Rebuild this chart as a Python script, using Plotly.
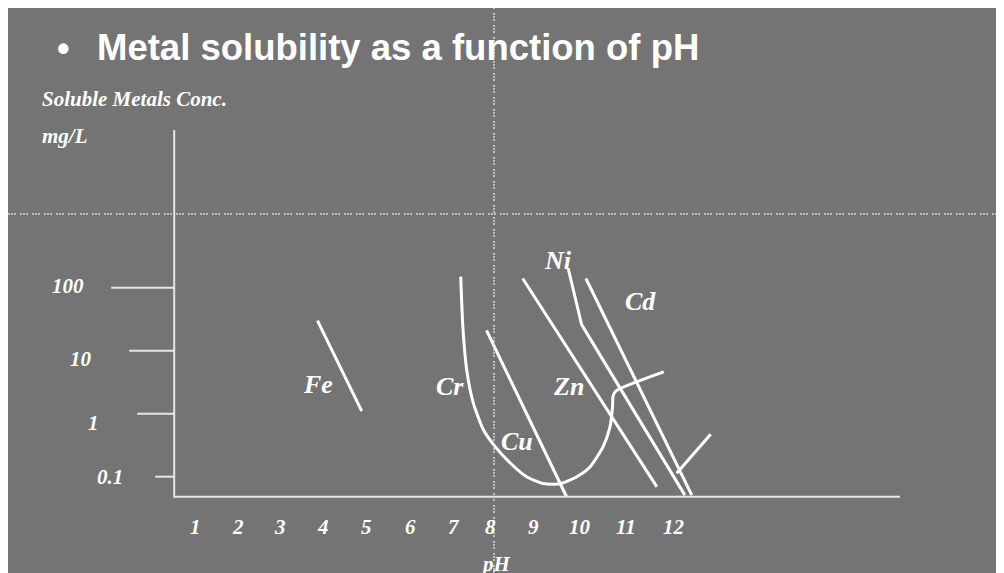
import math
import plotly.graph_objects as go

# pH axis labels and concentration axis labels (mg/L)
ph_ticks = [1, 2, 3, 4, 5, 6, 7, 8, 9, 10, 11, 12]
conc_ticks = [100, 10, 1, 0.1]
conc_tick_labels = ["100", "10", "1", "0.1"]

# solubility curves
fe_ph = [3.86, 4.89]
fe_conc = [30, 1.1]

cr_ph = [7.19, 7.24, 7.33, 7.48, 7.72, 7.99, 8.34, 8.72, 9.11, 9.50, 9.89, 10.20, 10.50, 10.66, 10.72, 10.73, 10.80, 11.91]
cr_conc = [150, 24, 4.9, 1.5, 0.55, 0.30, 0.165, 0.10, 0.078, 0.077, 0.10, 0.144, 0.30, 0.62, 1.32, 1.9, 2.3, 4.6]

cu_ph = [7.79, 9.65]
cu_conc = [21, 0.048]

zn_ph = [8.63, 11.75]
zn_conc = [140, 0.069]

ni_ph = [9.69, 9.85, 10.00, 10.12, 12.40]
ni_conc = [200, 72, 26, 19, 0.051]

cd_ph = [10.10, 12.56]
cd_conc = [140, 0.051]

rise_ph = [12.21, 13.00]
rise_conc = [0.113, 0.47]

metal_names = ["Fe", "Cr", "Cu", "Zn", "Ni", "Cd"]
label_ph = [3.88, 6.94, 8.49, 9.69, 9.46, 11.36]
label_conc = [2.86, 2.68, 0.36, 2.68, 275, 60]

# drawn axes of the slide
axis_ph = [0.53, 0.53, 17.4]
axis_conc = [31800, 0.048, 0.048]

# the page body adds an 8px white margin on the left and top
W, H = 996, 565
OFF = 8
BG = "#747474"
x_range = [-3.333, 19.818]
y_range = [-2.529, 6.440]
px_per_ph = W / (x_range[1] - x_range[0])


def px(x):
    return (x - OFF) / W


def py(y):
    return 1 - (y - OFF) / H


tick_len_px = [63, 45, 37, 19]
ylab_xshift = [-106, -93, -81, -64]
ylab_yshift = [2, -8, -9, 0]
# hand placed pH labels on the slide are not evenly spaced
xlab_xshift = [1, 1, 0, 0, 0, 1, 1, -5, -5, -2, 1, 6]

serif = dict(family="Liberation Serif", color="white", size=21, style="italic", weight="bold")

fig = go.Figure()

curve = dict(color="white", width=3)
for xs, ys in [(fe_ph, fe_conc), (cu_ph, cu_conc), (zn_ph, zn_conc), (ni_ph, ni_conc),
               (cd_ph, cd_conc), (rise_ph, rise_conc)]:
    fig.add_trace(go.Scatter(x=xs, y=ys, mode="lines", line=curve, hoverinfo="skip"))
fig.add_trace(go.Scatter(x=cr_ph, y=cr_conc, mode="lines", hoverinfo="skip",
                         line=dict(color="white", width=3, shape="spline", smoothing=0.6)))

# axis lines + left tick marks
tx, ty = [], []
for v, ln in zip(conc_ticks, tick_len_px):
    tx += [axis_ph[0] - ln / px_per_ph, axis_ph[0], None]
    ty += [v, v, None]
fig.add_trace(go.Scatter(x=axis_ph + [None] + tx, y=axis_conc + [None] + ty, mode="lines",
                         line=dict(color="#e6e6e6", width=2), hoverinfo="skip"))

for v, lab, dx, dy in zip(conc_ticks, conc_tick_labels, ylab_xshift, ylab_yshift):
    fig.add_annotation(x=axis_ph[0], y=math.log10(v), text=lab, showarrow=False,
                       xshift=dx, yshift=dy, font=serif)

for p, dx in zip(ph_ticks, xlab_xshift):
    fig.add_annotation(x=p, y=math.log10(axis_conc[1]), text=str(p), showarrow=False,
                       xshift=dx, yshift=-30, font=serif)
fig.add_annotation(x=8, y=math.log10(axis_conc[1]), text="pH", showarrow=False,
                   yshift=-67, font=serif)

for name, p, c in zip(metal_names, label_ph, label_conc):
    fig.add_annotation(x=p, y=math.log10(c), text=name, showarrow=False,
                       font=dict(serif, size=26))

# slide text
fig.add_annotation(xref="paper", yref="paper", x=px(63), y=py(49), text="•",
                   showarrow=False, xanchor="center", yanchor="middle",
                   font=dict(family="Liberation Sans", size=36, color="white", weight="bold"))
fig.add_annotation(xref="paper", yref="paper", x=px(95), y=py(47),
                   text="Metal solubility as a function of pH", showarrow=False,
                   xanchor="left", yanchor="middle",
                   font=dict(family="Liberation Sans", size=36.5, color="white", weight="bold"))
fig.add_annotation(xref="paper", yref="paper", x=px(40), y=py(99),
                   text="Soluble Metals Conc.", showarrow=False, xanchor="left",
                   yanchor="middle", font=serif)
fig.add_annotation(xref="paper", yref="paper", x=px(40), y=py(136),
                   text="mg/L", showarrow=False, xanchor="left", yanchor="middle", font=serif)

# dotted guide lines
dots = dict(color="#d6d6d6", width=1.5, dash="2px,1px,2px,1px,2px,4px")
fig.add_shape(type="line", xref="paper", yref="paper", x0=px(494), x1=px(494),
              y0=0, y1=1, line=dots, layer="above")
fig.add_shape(type="line", xref="paper", yref="paper", x0=0, x1=1,
              y0=py(214), y1=py(214), line=dots, layer="above")

fig.update_layout(
    width=W, height=H,
    margin=dict(l=0, r=0, t=0, b=0, pad=0),
    paper_bgcolor=BG, plot_bgcolor=BG,
    showlegend=False,
    xaxis=dict(range=x_range, visible=False, fixedrange=True),
    yaxis=dict(type="log", range=y_range, visible=False, fixedrange=True),
)

fig.write_html("out.html")
